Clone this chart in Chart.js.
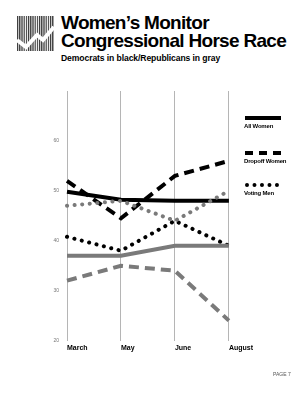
<!DOCTYPE html>
<html>
<head>
<meta charset="utf-8">
<script src="https://cdn.jsdelivr.net/npm/chart.js@4.4.0/dist/chart.umd.min.js"></script>
<style>
  body { margin:0; background:#fff; font-family:"Liberation Sans", Arial, sans-serif; }
  #page { position:relative; width:306px; height:400px; overflow:hidden; }
  #logo { position:absolute; left:17px; top:16px; }
  #t1 { position:absolute; left:61px; top:14px; font-weight:bold; font-size:19px; line-height:18px; letter-spacing:-0.7px; color:#000; }
  #t2 { position:absolute; left:61px; top:53px; font-weight:bold; font-size:8.6px; color:#000; letter-spacing:-0.1px; }
  #wrap { position:absolute; left:30px; top:80px; width:226px; height:275px; }
  .leg { position:absolute; left:244px; font-weight:bold; font-size:6px; color:#000; letter-spacing:-0.2px; }
  .sw { position:absolute; left:245px; width:36px; height:0; }
  #page7 { position:absolute; left:273px; top:371px; font-size:5px; color:#555; }
</style>
</head>
<body>
<div id="page">
  <svg id="logo" width="37" height="35" viewBox="0 0 37 35">
    <defs>
      <pattern id="st" width="2.2" height="35" patternUnits="userSpaceOnUse">
        <rect x="0" y="0" width="1.2" height="35" fill="#333"/>
      </pattern>
    </defs>
    <rect x="0" y="0" width="37" height="35" fill="url(#st)"/>
    <polyline points="0,24 9,31 20,19 26,24 37,11" fill="none" stroke="#fff" stroke-width="4"/>
  </svg>
  <div id="t1">Women’s Monitor<br>Congressional Horse Race</div>
  <div id="t2">Democrats in black/Republicans in gray</div>
  <div id="wrap"><canvas id="myChart"></canvas></div>

  <div class="sw" style="top:116px;border-top:4px solid #000"></div>
  <div class="leg" style="top:123px">All Women</div>
  <div class="sw" style="top:151px;border-top:4px dashed #000"></div>
  <div class="leg" style="top:158px">Dropoff Women</div>
  <div class="sw" style="top:183px;border-top:4px dotted #000;width:34px"></div>
  <div class="leg" style="top:190px">Voting Men</div>

  <div id="page7">PAGE 7</div>
</div>
<script>
// months along the bottom
var months = ["March", "May", "June", "August"];

// democrats (black)
var allWomenDem = [49.8, 48.2, 48, 48];
var dropoffDem = [52, 44.5, 53, 56];
var votingMenDem = [40.8, 38, 44, 39];

// republicans (gray)
var allWomenRep = [37, 37, 39, 39];
var dropoffRep = [32, 35, 34, 24];
var votingMenRep = [47, 48, 44, 50];

var yTicks = [20, 30, 40, 50, 60];

var black = "#000";
var gray = "#7a7a7a";
var solid = [];
var dashed = [10, 6];
var dotted = [0.1, 7.5];

function line(label, data, color, dash){
  return {
    label: label,
    data: data,
    borderColor: color,
    borderWidth: 4,
    borderDash: dash,
    borderCapStyle: dash == dotted ? "round" : "butt",
    pointRadius: 0,
    tension: 0,
    fill: false
  };
}

new Chart("myChart", {
  type: "line",
  data: {
    labels: months,
    datasets: [
      line("All Women (R)", allWomenRep, gray, solid),
      line("Dropoff Women (R)", dropoffRep, gray, dashed),
      line("Voting Men (R)", votingMenRep, gray, dotted),
      line("All Women", allWomenDem, black, solid),
      line("Dropoff Women", dropoffDem, black, dashed),
      line("Voting Men", votingMenDem, black, dotted)
    ]
  },
  options: {
    responsive: true,
    maintainAspectRatio: false,
    animation: false,
    layout: { padding: { left: 23, right: 0, top: 8, bottom: 0 } },
    plugins: {
      legend: { display: false },
      tooltip: { enabled: false }
    },
    scales: {
      x: {
        offset: false,
        grid: { display: true, color: "#b5b5b5", lineWidth: 1, drawTicks: false },
        border: { display: false },
        ticks: {
          color: "#000",
          font: { family: "Liberation Sans", size: 7, weight: "bold" },
          padding: 3,
          align: "start",
          maxRotation: 0
        }
      },
      y: {
        min: 20,
        max: 70,
        afterBuildTicks: function(axis){
          axis.ticks = yTicks.map(function(v){ return { value: v }; });
        },
        afterFit: function(axis){ axis.width = 14; },
        grid: { display: false, drawTicks: false },
        border: { display: false },
        ticks: {
          color: "#777",
          font: { family: "Liberation Sans", size: 5 },
          padding: 8
        }
      }
    }
  }
});
</script>
</body>
</html>
